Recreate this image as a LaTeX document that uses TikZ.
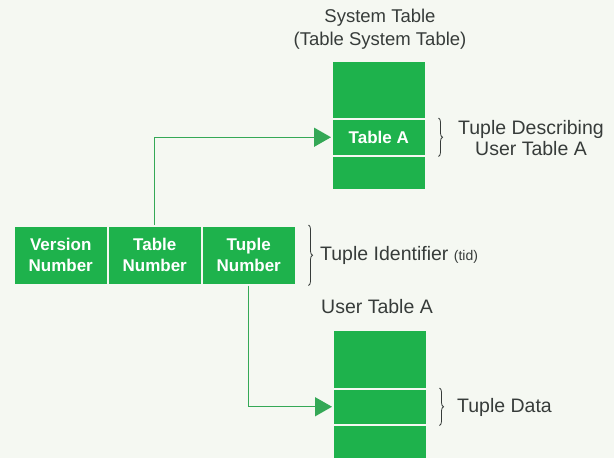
\documentclass[tikz,border=0pt]{standalone}
\usepackage{fontspec}
\setmainfont{Liberation Sans}
\usetikzlibrary{arrows.meta,positioning,decorations.pathreplacing}
\definecolor{tblgreen}{RGB}{30,178,76}
\definecolor{linegreen}{RGB}{52,168,86}
\definecolor{paper}{RGB}{245,248,242}
\definecolor{ink}{RGB}{55,60,58}

\begin{document}
\begin{tikzpicture}[x=1pt, y=-1pt, text=ink, font=\fontsize{19.5}{21}\selectfont]
   \fill[paper] (0,0) rectangle (614,458);
   \useasboundingbox (0,0) rectangle (614,458);
   \begin{scope}[every node/.style={draw=paper, line width=1.5pt, fill=tblgreen, text=white, font=\bfseries\fontsize{17}{21}\selectfont, align=center, minimum width=94pt, minimum height=59pt, inner sep=0pt, anchor=north west}]
    % tuple identifier
    \node (vnum) at (13,225) {Version\\Number};
    \node (tnum) at (107,225) {Table\\Number};
    \node (pnum) at (201,225) {Tuple\\Number};
    % system table
    \node (sys1) [minimum height=58pt] at (331,60) {};
    \node (sysA) [minimum height=37pt] at (331,118) {Table A};
    \node (sys2) [minimum height=34pt] at (331,155) {};
    % user table
    \node (usr1) [minimum height=59pt] at (332,329) {};
    \node (usrA) [minimum height=36pt] at (332,388) {};
    \node (usr2) [minimum height=40pt] at (332,424) {};
   \end{scope}
   \begin{scope}[every node/.style={inner sep=0pt}]
    \node (systitle) [align=center, font=\fontsize{18.5}{23}\selectfont] at (380,29) {System Table\\(Table System Table)};
    \node (usrtitle) at (377,307) {User Table A};
    \node (desclbl) [align=center] at (531,138) {Tuple Describing\\User Table A};
    \node (tidlbl) [anchor=west] at (320,255) {Tuple Identifier {\fontsize{14}{15}\selectfont(tid)}};
    \node (datalbl) [anchor=west] at (457,407) {Tuple Data};
   \end{scope}
   \begin{scope}[draw=ink, line width=0.8pt, decoration={brace, amplitude=4pt}]
    \draw [decorate] ([xshift=12pt]sysA.north east) -- ([xshift=12pt]sysA.south east);
    \draw [decorate] ([xshift=12pt]pnum.north east) -- ([xshift=12pt]pnum.south east);
    \draw [decorate] ([xshift=12pt]usrA.north east) -- ([xshift=12pt]usrA.south east);
   \end{scope}
   \begin{scope}[linegreen, line width=1.4pt, -{Triangle[length=17pt, width=19pt]}]
    \draw (tnum.north) |- (sysA.west);
    \draw (pnum.south) |- (usrA.west);
   \end{scope}
\end{tikzpicture}
\end{document}
